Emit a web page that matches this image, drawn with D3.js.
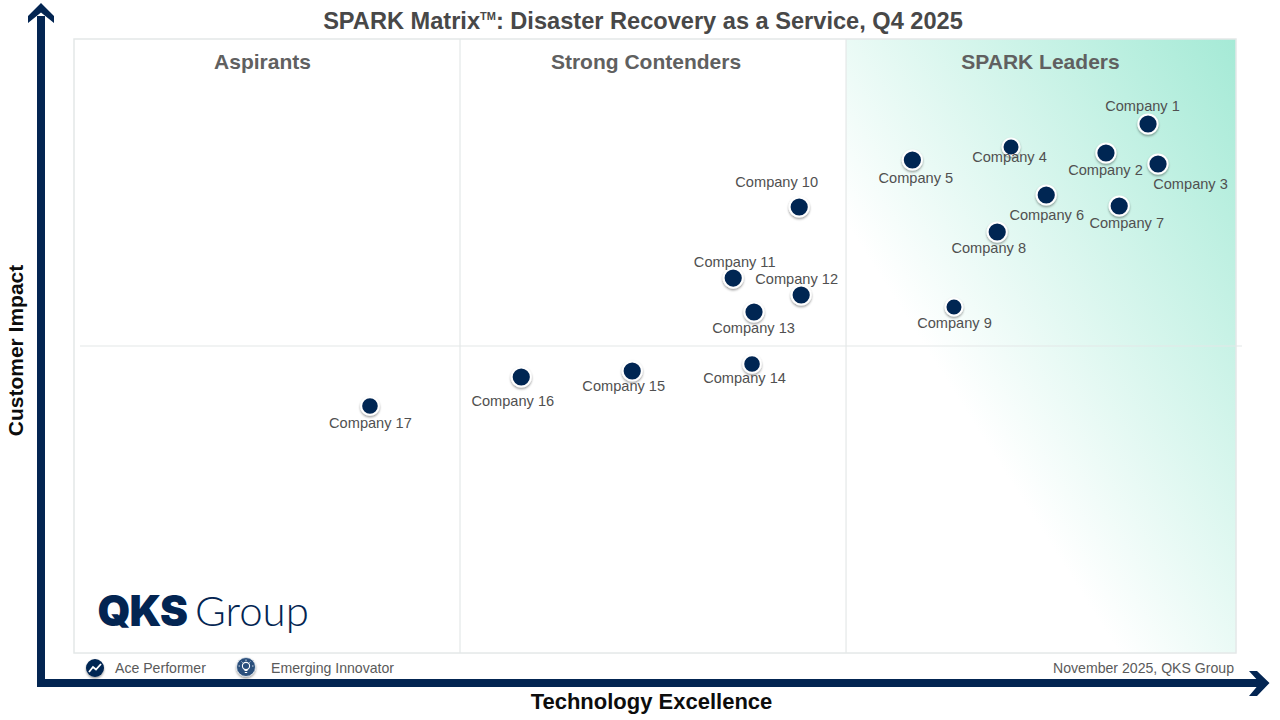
<!DOCTYPE html>
<html><head><meta charset="utf-8">
<script src="https://cdn.jsdelivr.net/npm/d3@7"></script>
<style>html,body{margin:0;padding:0;background:#fff}svg{display:block}text{font-family:"Liberation Sans",Arial,sans-serif}</style>
</head><body><svg id="c" width="1280" height="720"></svg>
<script>
const companies=["Company 1","Company 2","Company 3","Company 4","Company 5","Company 6","Company 7","Company 8","Company 9","Company 10","Company 11","Company 12","Company 13","Company 14","Company 15","Company 16","Company 17"];
const technologyExcellence=[92.43,88.81,93.29,80.64,72.15,83.67,89.95,79.45,75.73,62.41,56.73,62.58,58.52,58.35,48.04,38.49,25.47];
const customerImpact=[86.16,81.43,79.64,82.41,80.29,74.59,72.80,68.57,56.35,72.64,61.07,58.31,55.54,47.07,45.93,44.95,40.23];
const quadrantNames=["Aspirants","Strong Contenders","SPARK Leaders"];
const quadrantBreaksX=[33.22,66.44];
const quadrantBreakY=50;
const legendItems=["Ace Performer","Emerging Innovator"];
// label placement offsets (px) relative to each marker
const labelDx=[-5.5,-0.5,32.5,-1.5,3.5,0.5,7.5,-8.5,0.5,-22.5,1.5,-4.5,-0.5,-7.5,-8.5,-8.5,0.5];
const labelDy=[-18,17,20,10,18,20,17,16,16,-25,-16,-16,16,14,15,24,17];
const markerR=[10.6,10.6,10.6,9.5,10.6,10.6,10.6,10.6,9.5,10.6,10.6,10.6,10.6,9.8,10.6,10.6,9.8];

const P={l:74,r:1236,t:39,b:653};
const navy="#032552",grid="#e4e8e8",grey="#595959";
const x=d3.scaleLinear().domain([0,100]).range([P.l,P.r]);
const y=d3.scaleLinear().domain([0,100]).range([P.b,P.t]);
const svg=d3.select("#c");
const defs=svg.append("defs");
const g=defs.append("linearGradient").attr("id","lead").attr("x1",1).attr("y1",0).attr("x2",0).attr("y2",1);
[[0,"#a5ead6"],[0.65,"#ffffff"],[1,"#ffffff"]].forEach(s=>g.append("stop").attr("offset",s[0]).attr("stop-color",s[1]));
const sh=defs.append("filter").attr("id","sh").attr("x","-40%").attr("y","-40%").attr("width","180%").attr("height","180%");
sh.append("feDropShadow").attr("dx",0).attr("dy",1.5).attr("stdDeviation",1.2).attr("flood-color","#000").attr("flood-opacity",0.4);

// leaders panel
svg.append("rect").attr("x",x(quadrantBreaksX[1])).attr("y",P.t).attr("width",P.r-x(quadrantBreaksX[1])).attr("height",P.b-P.t).attr("fill","url(#lead)");
// frame + dividers
svg.append("rect").attr("x",P.l).attr("y",P.t).attr("width",P.r-P.l).attr("height",P.b-P.t).attr("fill","none").attr("stroke",grid).attr("stroke-width",1.5);
quadrantBreaksX.forEach(v=>svg.append("line").attr("x1",x(v)).attr("x2",x(v)).attr("y1",P.t).attr("y2",P.b).attr("stroke",grid).attr("stroke-width",1.2));
svg.append("line").attr("x1",80).attr("x2",1242).attr("y1",y(quadrantBreakY)).attr("y2",y(quadrantBreakY)).attr("stroke",grid).attr("stroke-width",1.2);

// axes arrows
svg.append("path").attr("fill",navy).attr("d","M37 687V16H45V679H1260V687Z");
svg.append("path").attr("fill",navy).attr("d","M41 3L54 16V23L41 12.5L28 23V16Z");
svg.append("path").attr("fill",navy).attr("d","M1269.5 683L1257 671H1249L1260 683L1249 696H1257Z");

// titles
svg.append("text").attr("x",643).attr("y",29).attr("text-anchor","middle").attr("font-size",23.6).attr("font-weight",700).attr("fill","#484848")
  .html('SPARK Matrix<tspan font-size="11" dy="-9">TM</tspan><tspan dy="9">: Disaster Recovery as a Service, Q4 2025</tspan>');
const qx=[262.5,646,1040.5];
quadrantNames.forEach((n,i)=>svg.append("text").attr("x",qx[i]).attr("y",69).attr("text-anchor","middle").attr("font-size",21).attr("font-weight",700).attr("fill","#606060").text(n));
svg.append("text").attr("x",651.5).attr("y",709).attr("text-anchor","middle").attr("font-size",22).attr("font-weight",700).attr("fill","#0d0d0d").text("Technology Excellence");
svg.append("text").attr("transform","translate(23,350.5) rotate(-90)").attr("text-anchor","middle").attr("font-size",21).attr("font-weight",700).attr("fill","#0d0d0d").text("Customer Impact");

// markers
const idx=d3.range(companies.length);
svg.append("g").selectAll("circle").data(idx).join("circle")
  .attr("cx",i=>x(technologyExcellence[i])).attr("cy",i=>y(customerImpact[i])).attr("r",i=>markerR[i]-1)
  .attr("fill",navy).attr("stroke","#fff").attr("stroke-width",2).attr("filter","url(#sh)");
svg.append("g").selectAll("text").data(idx).join("text")
  .attr("x",i=>x(technologyExcellence[i])+labelDx[i]).attr("y",i=>y(customerImpact[i])+labelDy[i]+5)
  .attr("text-anchor","middle").attr("font-size",14.6).attr("fill","#505050").text(i=>companies[i]);

// logo
const logo=svg.append("text").attr("x",97.5).attr("y",626).attr("fill",navy);
logo.append("tspan").attr("font-family","Inter").attr("font-weight",900).attr("font-size",42).attr("letter-spacing",-1).text("QKS");
logo.append("tspan").attr("font-family","Lato").attr("font-weight",300).attr("font-size",42).attr("dx",8).text("Group");

// legend
svg.append("circle").attr("cx",95).attr("cy",668).attr("r",9).attr("fill",navy).attr("filter","url(#sh)");
svg.append("path").attr("d","M89 672L93 667L96 669.5L101 664").attr("fill","none").attr("stroke","#fff").attr("stroke-width",1.8);
svg.append("circle").attr("cx",246).attr("cy",667).attr("r",9.5).attr("fill","#2b4f7c").attr("stroke","#e8eef2").attr("stroke-width",0.8).attr("filter","url(#sh)");
svg.append("circle").attr("cx",246).attr("cy",666).attr("r",3.6).attr("fill","none").attr("stroke","#fff").attr("stroke-width",1.1);
svg.append("path").attr("d","M244.5 670.5h3M244.8 672.5h2.4").attr("stroke","#fff").attr("stroke-width",1);
svg.append("path").attr("d","M246 659.5v1.5M240 666h-1.5M252 666h1.5M241.6 661.6l1 1M250.4 661.6l-1 1").attr("stroke","#fff").attr("stroke-width",0.8);
const lx=[115,271];
legendItems.forEach((t,i)=>svg.append("text").attr("x",lx[i]).attr("y",673).attr("font-size",14.1).attr("fill","#5a5a5a").text(t));
svg.append("text").attr("x",1234).attr("y",673).attr("text-anchor","end").attr("font-size",14.1).attr("fill","#5a5a5a").text("November 2025, QKS Group");
</script></body></html>
